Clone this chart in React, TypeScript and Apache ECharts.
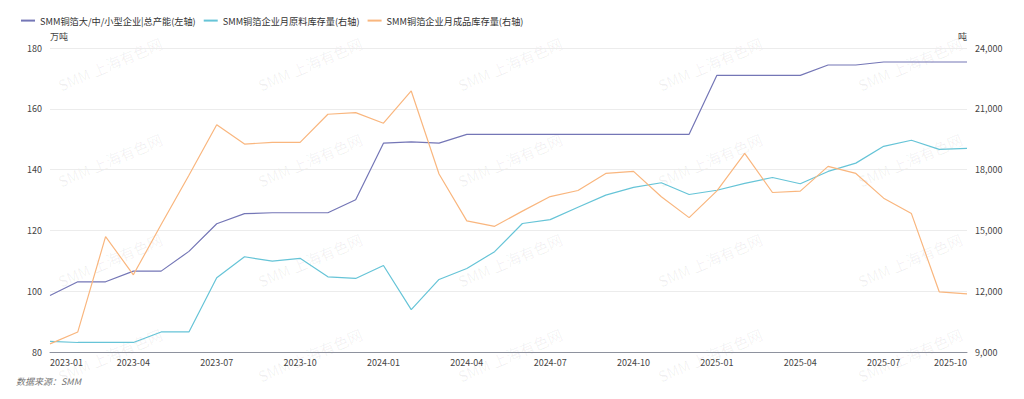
import React, { useEffect, useRef } from "react";
import * as echarts from "echarts";

const months = [
  "2023-01", "2023-02", "2023-03", "2023-04", "2023-05", "2023-06", "2023-07", "2023-08", "2023-09", "2023-10", "2023-11", "2023-12",
  "2024-01", "2024-02", "2024-03", "2024-04", "2024-05", "2024-06", "2024-07", "2024-08", "2024-09", "2024-10", "2024-11", "2024-12",
  "2025-01", "2025-02", "2025-03", "2025-04", "2025-05", "2025-06", "2025-07", "2025-08", "2025-09", "2025-10",
];

const capacity = [
  98.6, 103.1, 103.1, 106.6, 106.6, 113.1, 122.2, 125.5, 125.8, 125.8, 125.8, 130.1,
  148.7, 149.1, 148.7, 151.6, 151.6, 151.6, 151.6, 151.6, 151.6, 151.6, 151.6, 151.6,
  171.0, 171.0, 171.0, 171.0, 174.4, 174.4, 175.4, 175.4, 175.4, 175.4,
];

const rawStock = [
  9520, 9470, 9470, 9470, 9990, 9990, 12660, 13700, 13480, 13620, 12710, 12630,
  13270, 11090, 12580, 13120, 13950, 15340, 15530, 16140, 16740, 17120, 17350, 16770,
  16980, 17320, 17610, 17300, 17910, 18320, 19150, 19450, 19000, 19050,
];

const finishedStock = [
  9400, 9990, 14690, 12810, 15290, 17720, 20210, 19260, 19340, 19340, 20730, 20810,
  20290, 21880, 17780, 15470, 15200, 15950, 16670, 16970, 17810, 17910, 16660, 15630,
  16950, 18800, 16870, 16940, 18160, 17810, 16590, 15830, 11970, 11870,
];

const seriesNames = [
  "SMM铜箔大/中/小型企业|总产能(左轴)",
  "SMM铜箔企业月原料库存量(右轴)",
  "SMM铜箔企业月成品库存量(右轴)",
];

const leftAxisName = "万吨";
const rightAxisName = "吨";
const sourceText = "数据来源：SMM";
const watermarkText = "SMM 上海有色网";

const colors = ["#7476b6", "#66c4d7", "#f9b67e"];
const FONT = "'Noto Sans CJK SC', 'Noto Sans', sans-serif";

export default function App() {
  const ref = useRef<HTMLDivElement>(null);

  useEffect(() => {
    document.body.style.margin = "0";
    const chart = echarts.init(ref.current!, undefined, { renderer: "svg" });

    const watermarks: any[] = [];
    const wmCols = [110, 310, 510, 710, 910];
    const wmRows = [64, 160, 260, 355];
    wmRows.forEach((y) => {
      wmCols.forEach((x) => {
        watermarks.push({
          type: "text",
          x,
          y,
          rotation: 0.4,
          z: 0,
          silent: true,
          style: {
            text: watermarkText,
            fill: "rgba(0,0,0,0.06)",
            font: `15px ${FONT}`,
            align: "center",
            verticalAlign: "middle",
          },
        });
      });
    });

    chart.setOption({
      animation: false,
      color: colors,
      textStyle: { fontFamily: FONT },
      legend: {
        left: 16,
        top: 11,
        itemWidth: 14,
        itemHeight: 2,
        itemGap: 8,
        icon: "rect",
        textStyle: { fontSize: 9.2, color: "#333", fontFamily: FONT },
        data: seriesNames,
      },
      grid: { left: 50, right: 57, top: 48, bottom: 47, containLabel: false },
      xAxis: {
        type: "category",
        data: months,
        boundaryGap: false,
        axisLine: { lineStyle: { color: "#8e929e", width: 1 } },
        axisTick: { show: false },
        axisLabel: {
          interval: 2,
          fontSize: 9,
          color: "#444",
          margin: 6,
          alignMinLabel: "left",
          alignMaxLabel: "right",
          fontFamily: FONT,
        },
      },
      yAxis: [
        {
          type: "value",
          min: 80,
          max: 180,
          interval: 20,
          name: leftAxisName,
          nameGap: 7,
          nameTextStyle: { fontSize: 9, color: "#444", align: "left", fontFamily: FONT },
          axisLine: { show: false },
          axisTick: { show: false },
          axisLabel: { fontSize: 9, color: "#444", margin: 8, fontFamily: FONT },
          splitLine: { lineStyle: { color: "#ececec" } },
        },
        {
          type: "value",
          min: 9000,
          max: 24000,
          interval: 3000,
          name: rightAxisName,
          nameGap: 7,
          nameTextStyle: { fontSize: 9, color: "#444", align: "right", fontFamily: FONT },
          axisLine: { show: false },
          axisTick: { show: false },
          axisLabel: {
            fontSize: 9,
            color: "#444",
            margin: 8,
            fontFamily: FONT,
            formatter: (v: number) => v.toLocaleString("en-US"),
          },
          splitLine: { show: false },
        },
      ],
      series: [
        {
          name: seriesNames[0],
          type: "line",
          yAxisIndex: 0,
          data: capacity,
          showSymbol: false,
          lineStyle: { width: 1.2 },
          z: 3,
        },
        {
          name: seriesNames[1],
          type: "line",
          yAxisIndex: 1,
          data: rawStock,
          showSymbol: false,
          lineStyle: { width: 1.2 },
          z: 3,
        },
        {
          name: seriesNames[2],
          type: "line",
          yAxisIndex: 1,
          data: finishedStock,
          showSymbol: false,
          lineStyle: { width: 1.2 },
          z: 3,
        },
      ],
      graphic: [
        ...watermarks,
        {
          type: "text",
          left: 16,
          top: 377,
          silent: true,
          style: {
            text: sourceText,
            fill: "#777",
            font: `italic 9px ${FONT}`,
          },
        },
      ],
    });

    return () => chart.dispose();
  }, []);

  return <div ref={ref} style={{ width: 1024, height: 399 }} />;
}
